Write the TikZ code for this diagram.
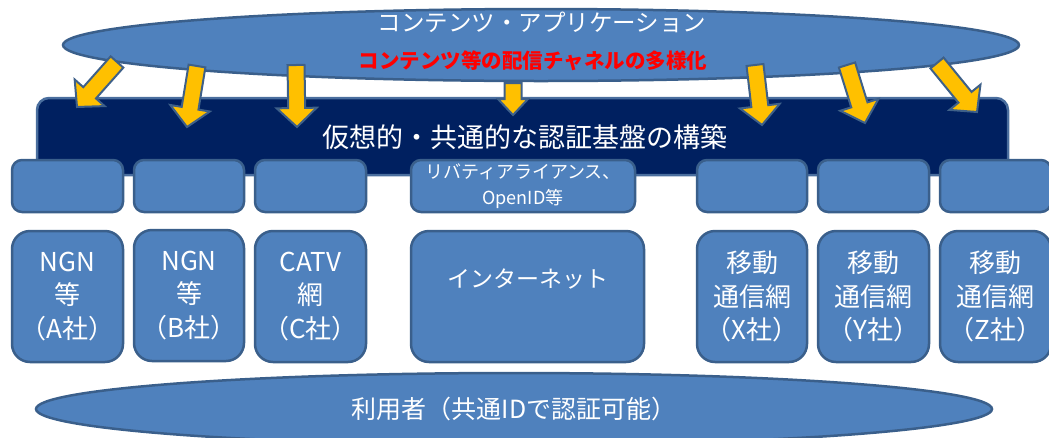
\documentclass[tikz,border=0pt]{standalone}
\usepackage{fontspec}
\setmainfont{Noto Sans CJK JP}
\usetikzlibrary{shapes.geometric}
\definecolor{boxblue}{HTML}{4F81BD}
\definecolor{boxedge}{HTML}{3A5F8B}
\definecolor{navy}{HTML}{002060}
\definecolor{bannerEdge}{HTML}{4A6E9E}
\definecolor{arrowyellow}{HTML}{FFC000}
\definecolor{arrowedge}{HTML}{3E6089}
\tikzset{
  cloud/.style={ellipse, draw=boxedge, fill=boxblue, line width=2.5pt, inner sep=0pt, text=white},
  banner/.style={draw=bannerEdge, fill=navy, line width=2.5pt, rounded corners=12pt, text=white, inner sep=0pt,
     font=\fontsize{27}{32}\selectfont},
  slot/.style={draw=boxedge, fill=boxblue, line width=2.5pt, rounded corners=10pt, text=white, inner sep=0pt,
     minimum height=52pt, align=center, font=\fontsize{18}{26}\selectfont},
  netbox/.style={draw=boxedge, fill=boxblue, line width=2.5pt, rounded corners=18pt, text=white, inner sep=0pt,
     minimum height=131pt, align=center, font=\fontsize{26}{33.5}\selectfont},
  flowarrow/.style={draw=arrowedge, fill=arrowyellow, line width=2pt, line join=miter},
  plain/.style={inner sep=0pt, text=white}
}
% block arrow: x1,y1 (tail) x2,y2 (tip) half head width, head length
\newcommand\barrow[6]{%
  \pgfmathsetmacro\bl{veclen(#3-#1,#4-#2)}%
  \pgfmathsetmacro\ba{atan2(#2-#4,#3-#1)}%
  \pgfmathsetmacro\bh{\bl-#6}%
  \draw[flowarrow,shift={(#1,#2)},rotate=\ba]
    (0,-8.5)--(\bh,-8.5)--(\bh,-#5)--(\bl,0)--(\bh,#5)--(\bh,8.5)--(0,8.5)--cycle;}
\begin{document}
\begin{tikzpicture}[x=1pt,y=-1pt]
\useasboundingbox (0,0) rectangle (1049,437);
\clip (0,0) rectangle (1049,437);
% top ellipse
\node[cloud, minimum width=956pt, minimum height=72pt] (apps) at (541,45) {};
\node[plain, font=\fontsize{23.5}{28}\selectfont] (appsT) at (542,22) {コンテンツ・アプリケーション};
\node[plain, text=red, font=\fontsize{20.5}{24}\selectfont\bfseries] (appsR) at (533,61) {コンテンツ等の配信チャネルの多様化};
% banner
\node[banner, minimum width=971pt, minimum height=77pt] (platform) at (522.5,136.5) {};
\node[plain, font=\fontsize{27}{32}\selectfont] (platT) at (525,137) {仮想的・共通的な認証基盤の構築};
% arrows
\barrow{117}{62}{77}{107}{20}{19}
\barrow{197}{66}{187}{127}{20}{19}
\barrow{296}{65}{297}{127}{20}{19}
\barrow{513}{83}{513}{115}{15}{16}
\barrow{755}{65}{762}{125}{20}{19}
\barrow{847}{65}{865}{123}{20}{19}
\barrow{937}{63}{977}{112}{20}{19}
% slots
\node[slot, minimum width=111pt] (sA) at (67.5,186) {};
\node[slot, minimum width=110pt] (sB) at (189,186) {};
\node[slot, minimum width=111pt] (sC) at (310.5,186) {};
\node[slot, minimum width=224pt] (sD) at (523,186) {リバティアライアンス、\\OpenID等};
\node[slot, minimum width=110pt] (sX) at (752,186) {};
\node[slot, minimum width=111pt] (sY) at (873.5,186) {};
\node[slot, minimum width=111pt] (sZ) at (995.5,186) {};
% networks
\node[netbox, minimum width=111pt] (nA) at (67.5,296.5) {NGN\\等\\（A社）};
\node[netbox, minimum width=110pt] (nB) at (189,295.5) {NGN\\等\\（B社）};
\node[netbox, minimum width=111pt] (nC) at (310.5,296.5) {CATV\\網\\（C社）};
\node[netbox, minimum width=233pt] (nI) at (527.5,296.5) {};
\node[plain, font=\fontsize{23}{28}\selectfont] (nIT) at (527.5,279) {インターネット};
\node[netbox, minimum width=110pt] (nX) at (752,296.5) {移動\\通信網\\（X社）};
\node[netbox, minimum width=111pt] (nY) at (873.5,296.5) {移動\\通信網\\（Y社）};
\node[netbox, minimum width=111pt] (nZ) at (995.5,296.5) {移動\\通信網\\（Z社）};
% users
\node[cloud, minimum width=956pt, minimum height=72pt, font=\fontsize{25}{30}\selectfont] (users) at (514,409) {利用者（共通IDで認証可能）};
\end{tikzpicture}
\end{document}
